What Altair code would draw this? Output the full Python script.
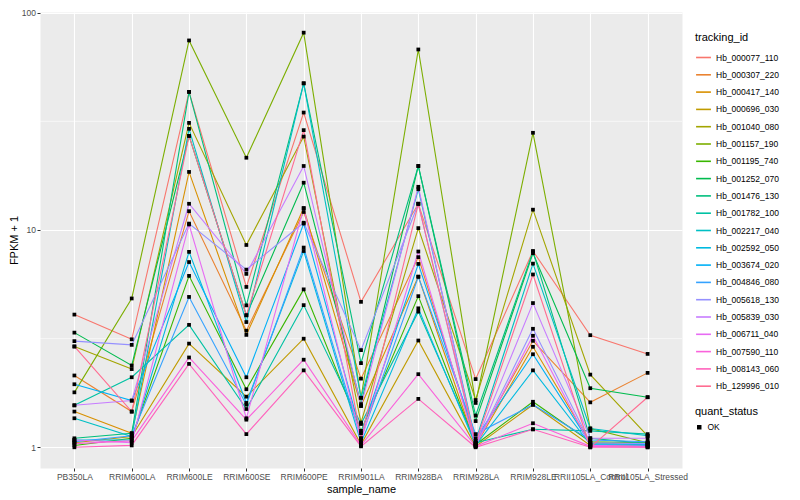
import altair as alt
import pandas as pd

samples = ["PB350LA", "RRIM600LA", "RRIM600LE", "RRIM600SE", "RRIM600PE",
           "RRIM901LA", "RRIM928BA", "RRIM928LA", "RRIM928LE",
           "RRII105LA_Control", "RRII105LA_Stressed"]

tracking_ids = ["Hb_000077_110", "Hb_000307_220", "Hb_000417_140", "Hb_000696_030",
                "Hb_001040_080", "Hb_001157_190", "Hb_001195_740", "Hb_001252_070",
                "Hb_001476_130", "Hb_001782_100", "Hb_002217_040", "Hb_002592_050",
                "Hb_003674_020", "Hb_004846_080", "Hb_005618_130", "Hb_005839_030",
                "Hb_006711_040", "Hb_007590_110", "Hb_008143_060", "Hb_129996_010"]

palette = ["#F8766D", "#EA8331", "#D89000", "#C09B00", "#A3A500", "#7CAE00",
           "#39B600", "#00BB4E", "#00BF7D", "#00C1A3", "#00BFC4", "#00BAE0",
           "#00B0F6", "#35A2FF", "#9590FF", "#C77CFF", "#E76BF3", "#FA62DB",
           "#FF62BC", "#FF6C91"]

# FPKM + 1 per tracking_id, in sample order
hb_000077_110 = [4.08, 3.14, 43.2, 5.47, 34.7, 4.67, 13.2, 2.06, 8.0, 3.28, 2.69]
hb_000307_220 = [2.14, 1.46, 12.2, 3.44, 12.1, 2.07, 7.5, 1.05, 3.09, 1.61, 2.20]
hb_000417_140 = [1.46, 1.16, 18.5, 3.29, 12.6, 1.55, 6.1, 1.02, 2.9, 1.05, 1.03]
hb_000696_030 = [1.05, 1.12, 3.0, 1.71, 3.16, 1.03, 3.10, 1.01, 1.57, 1.02, 1.01]
hb_001040_080 = [2.91, 2.29, 31.1, 8.53, 26.9, 1.30, 10.2, 1.65, 12.4, 2.16, 1.13]
hb_001157_190 = [1.79, 4.84, 74.5, 21.5, 80.9, 1.69, 67.7, 1.60, 28.0, 1.22, 1.05]
hb_001195_740 = [1.02, 1.10, 6.15, 1.85, 5.33, 1.19, 4.96, 1.03, 1.62, 1.06, 1.05]
hb_001252_070 = [3.37, 2.38, 27.1, 4.05, 16.5, 1.58, 19.7, 1.32, 7.82, 1.87, 1.70]
hb_001476_130 = [1.10, 1.16, 43.2, 4.50, 47.3, 2.44, 19.7, 1.40, 7.96, 1.10, 1.04]
hb_001782_100 = [1.56, 2.10, 3.66, 1.50, 4.51, 1.28, 4.21, 1.05, 1.21, 1.19, 1.15]
hb_002217_040 = [1.36, 1.12, 29.2, 3.77, 47.3, 1.69, 15.4, 1.07, 7.0, 1.22, 1.13]
hb_002592_050 = [1.08, 1.08, 7.93, 1.60, 8.0, 1.05, 4.36, 1.02, 2.26, 1.03, 1.02]
hb_003674_020 = [1.95, 1.64, 7.12, 2.10, 10.7, 1.16, 6.98, 1.10, 2.68, 1.04, 1.03]
hb_004846_080 = [1.06, 1.13, 4.92, 1.57, 8.3, 1.10, 6.09, 1.15, 1.57, 1.08, 1.06]
hb_005618_130 = [3.08, 2.96, 10.7, 6.57, 10.8, 2.80, 13.2, 1.03, 3.51, 1.05, 1.04]
hb_005839_030 = [1.56, 1.64, 13.2, 6.28, 19.7, 1.55, 15.8, 1.04, 4.61, 1.10, 1.10]
hb_006711_040 = [1.08, 1.05, 10.6, 1.36, 12.6, 1.07, 7.96, 1.02, 3.26, 1.02, 1.01]
hb_007590_110 = [1.04, 1.07, 2.59, 1.34, 2.53, 1.02, 2.17, 1.01, 1.29, 1.01, 1.00]
hb_008143_060 = [1.00, 1.02, 2.42, 1.15, 2.26, 1.01, 1.67, 1.00, 1.21, 1.00, 1.00]
hb_129996_010 = [2.91, 1.46, 27.1, 4.05, 28.8, 1.10, 13.2, 1.05, 6.24, 1.00, 1.70]

series = [hb_000077_110, hb_000307_220, hb_000417_140, hb_000696_030, hb_001040_080,
          hb_001157_190, hb_001195_740, hb_001252_070, hb_001476_130, hb_001782_100,
          hb_002217_040, hb_002592_050, hb_003674_020, hb_004846_080, hb_005618_130,
          hb_005839_030, hb_006711_040, hb_007590_110, hb_008143_060, hb_129996_010]

y_ticks = [1, 10, 100]
y_minor = [3.1623, 31.623]

rows = []
for tid, vals in zip(tracking_ids, series):
    for s, v in zip(samples, vals):
        rows.append({"tracking_id": tid, "sample_name": s, "fpkm1": v, "quant_status": "OK"})
df = pd.DataFrame(rows)

x_enc = alt.X("sample_name:N", sort=samples, title="sample_name",
              scale=alt.Scale(type="point", padding=0.6),
              axis=alt.Axis(labelAngle=0, labelOverlap=False, grid=True))
y_scale = alt.Scale(type="log", domain=[0.803, 100.7], nice=False)
y_enc = alt.Y("fpkm1:Q", title="FPKM + 1", scale=y_scale,
              axis=alt.Axis(values=y_ticks, grid=True, format="d"))

minor = alt.Chart(pd.DataFrame({"y": y_minor})).mark_rule(
    color="white", strokeWidth=0.6).encode(y=alt.Y("y:Q", scale=y_scale))

lines = alt.Chart(df).mark_line(strokeWidth=1.1).encode(
    x=x_enc, y=y_enc,
    color=alt.Color("tracking_id:N", title="tracking_id",
                    scale=alt.Scale(domain=tracking_ids, range=palette),
                    legend=alt.Legend(orient="none", legendX=655, legendY=20,
                                      symbolType="stroke", symbolSize=220,
                                      symbolStrokeWidth=1.6, rowPadding=4.3,
                                      labelFontSize=8.5, titleFontSize=11,
                                      titlePadding=6)),
    detail="tracking_id:N",
)

points = alt.Chart(df).mark_point(filled=True, color="black", size=14, opacity=1).encode(
    x=x_enc, y=y_enc,
    shape=alt.Shape("quant_status:N", title="quant_status",
                    scale=alt.Scale(domain=["OK"], range=["square"]),
                    legend=alt.Legend(orient="none", legendX=655, legendY=394,
                                      symbolFillColor="black", symbolStrokeColor="black",
                                      symbolSize=20, labelFontSize=8.5,
                                      titleFontSize=11, titlePadding=6)),
)

chart = alt.layer(minor, lines, points).properties(
    width=642, height=456,
    autosize=alt.AutoSizeParams(type="none"),
    padding={"left": 32, "top": 4, "right": 110, "bottom": 30},
    background="white",
).configure_view(
    fill="#EBEBEB", stroke="transparent"
).configure_axis(
    gridColor="white", gridWidth=1.1, domain=False,
    tickColor="#333333", tickSize=3, tickWidth=1,
    labelColor="#4D4D4D", labelFontSize=8.5, labelFont="Liberation Sans",
    titleFont="Liberation Sans", titleFontSize=11, titleFontWeight="normal",
    titleColor="black", labelPadding=1.5,
).configure_axisX(titlePadding=2).configure_axisY(titlePadding=2).configure_legend(
    labelFont="Liberation Sans", titleFont="Liberation Sans",
    titleFontWeight="normal", labelColor="black", titleColor="black",
).configure_text(font="Liberation Sans")

chart.save("out.html", embed_options={"renderer": "svg", "actions": False})
